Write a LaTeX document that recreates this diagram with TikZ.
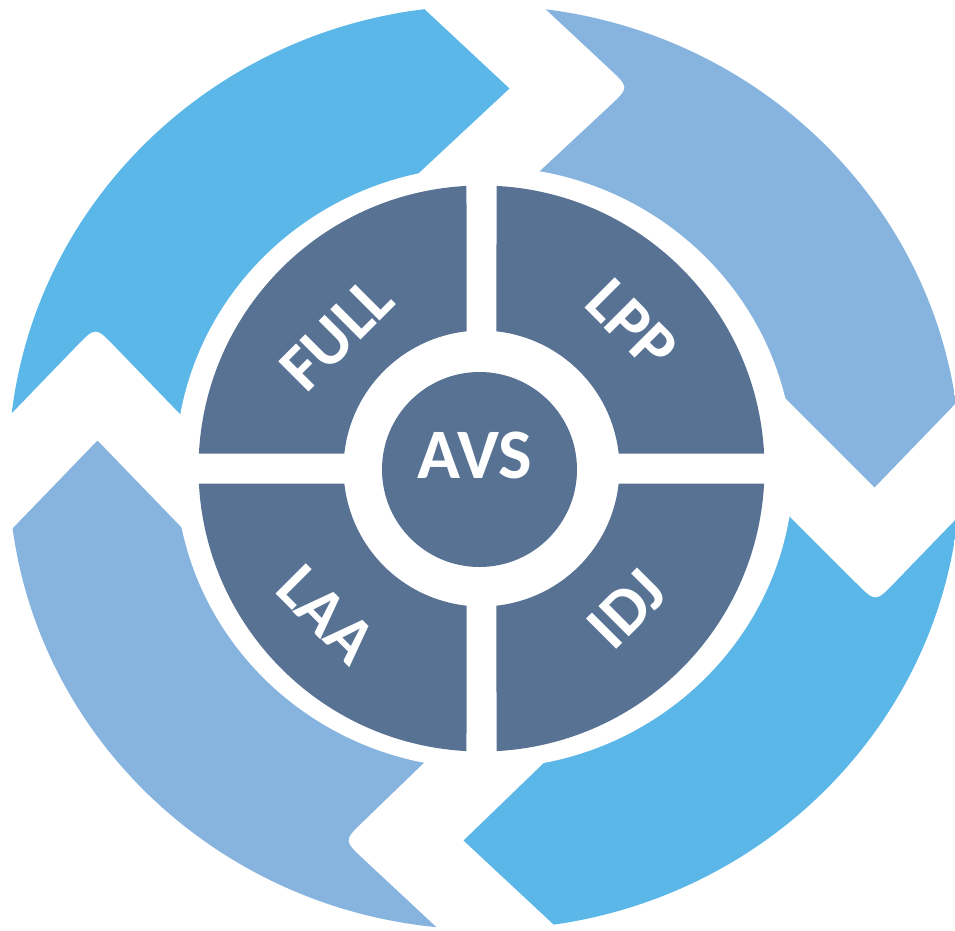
\documentclass[tikz,border=0pt]{standalone}
\usepackage{fontspec}
\setmainfont{Carlito}
\usetikzlibrary{calc}
\definecolor{cskyblue}{RGB}{91,183,232}
\definecolor{cpaleblue}{RGB}{135,180,223}
\definecolor{cslate}{RGB}{88,114,148}

\begin{document}
\begin{tikzpicture}[x=1pt,y=1pt,
  sky arrow/.style={fill=cskyblue},
  pale arrow/.style={fill=cpaleblue},
  quarter/.style={fill=cslate},
  hub node/.style={text=white,inner sep=0pt,font=\fontsize{71}{71}\selectfont\bfseries},
  sector node/.style={text=white,inner sep=0pt,font=\fontsize{66}{66}\selectfont\bfseries}]
  \useasboundingbox (-481.5,-461.5) rectangle (473.5,468.5);

  % arrow heads (t) and notched tails (n)
  \coordinate (tT) at (28,380);
  \coordinate (nT) at (148,381);
  \coordinate (tR) at (393,-19);
  \coordinate (nR) at (394,-134);
  \coordinate (tB) at (-18,-372);
  \coordinate (nB) at (-138,-372);
  \coordinate (tL) at (-384,28);
  \coordinate (nL) at (-386,142);

  \begin{scope}
    \clip (3,1) ellipse [x radius=476pt, y radius=462pt];
    \fill[sky arrow] ($(nL)+(226:380pt)$) -- ($(nL)+(226:28pt)$) .. controls (nL) .. ($(nL)+(314:28pt)$)
      -- ($(nL)+(314:380pt)$) -- (0,0) -- ($(tT)+(223:380pt)$) -- (tT) -- ($(tT)+(137:380pt)$) -- (-620,620) -- cycle;
    \fill[pale arrow] ($(nT)+(137:380pt)$) -- ($(nT)+(137:28pt)$) .. controls (nT) .. ($(nT)+(223:28pt)$)
      -- ($(nT)+(223:380pt)$) -- (0,0) -- ($(tR)+(135:380pt)$) -- (tR) -- ($(tR)+(46:380pt)$) -- (620,620) -- cycle;
    \fill[sky arrow] ($(nR)+(46:380pt)$) -- ($(nR)+(46:28pt)$) .. controls (nR) .. ($(nR)+(135:28pt)$)
      -- ($(nR)+(135:380pt)$) -- (0,0) -- ($(tB)+(44:380pt)$) -- (tB) -- ($(tB)+(317:380pt)$) -- (620,-620) -- cycle;
    \fill[pale arrow] ($(nB)+(317:380pt)$) -- ($(nB)+(317:28pt)$) .. controls (nB) .. ($(nB)+(44:28pt)$)
      -- ($(nB)+(44:380pt)$) -- (0,0) -- ($(tL)+(314:380pt)$) -- (tL) -- ($(tL)+(226:380pt)$) -- (-620,-620) -- cycle;
    \fill[white] (3,1) ellipse [x radius=309pt, y radius=301pt];
  \end{scope}

  \foreach \a in {0,90,180,270}
    \fill[quarter,rotate=\a] (83.76:138pt) -- (86.96:283pt) arc[start angle=86.96,end angle=3.04,radius=283pt]
      -- (6.24:138pt) arc[start angle=6.24,end angle=83.76,radius=138pt] -- cycle;
  \fill[quarter] (-2,-1) circle [radius=97.5pt];

  \node[hub node] (avs) at (-6.5,13) {AVS};
  \node[sector node,rotate=45] (full) at (-144.5,134.5) {FULL};
  \node[sector node,rotate=-45] (lpp) at (150.5,143.5) {LPP};
  \node[sector node,rotate=-45] (laa) at (-155,-146) {LAA};
  \node[sector node,rotate=45] (idj) at (145.5,-140.5) {IDJ};
\end{tikzpicture}
\end{document}
